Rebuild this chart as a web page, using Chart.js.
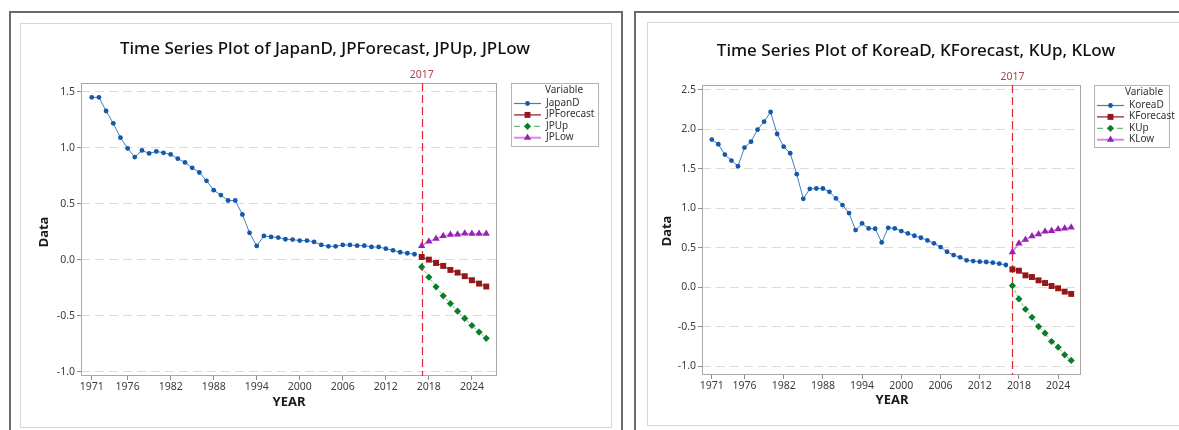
<!DOCTYPE html>
<html><head><meta charset="utf-8">
<script src="https://cdn.jsdelivr.net/npm/chart.js@4"></script>
<style>
html,body{margin:0;padding:0;background:#fff;width:1179px;height:430px;overflow:hidden;position:relative;}
.outer{position:absolute;border:2px solid #6b6b6b;}
.inner{position:absolute;border:1px solid #d6d6d6;}
canvas{position:absolute;top:0;}
</style></head><body>
<div class="outer" style="left:9px;top:11px;width:610px;height:440px;"></div>
<div class="inner" style="left:20px;top:23px;width:590px;height:403px;"></div>
<div class="outer" style="left:634px;top:11px;width:560px;height:440px;"></div>
<div class="inner" style="left:647px;top:22px;width:560px;height:402px;"></div>
<canvas id="c1" width="625" height="430" style="left:0px;width:625px;height:430px;"></canvas>
<canvas id="c2" width="549" height="430" style="left:630px;width:549px;height:430px;"></canvas>
<script>
// ---------- DATA ----------
const histYears = [1971,1972,1973,1974,1975,1976,1977,1978,1979,1980,
  1981,1982,1983,1984,1985,1986,1987,1988,1989,1990,
  1991,1992,1993,1994,1995,1996,1997,1998,1999,2000,
  2001,2002,2003,2004,2005,2006,2007,2008,2009,2010,
  2011,2012,2013,2014,2015,2016];
const forecastYears = [2017,2018,2019,2020,2021,2022,2023,2024,2025,2026];
const xTickLabels = [1971,1976,1982,1988,1994,2000,2006,2012,2018,2024];
const refYear = 2017;

const japanD = [1.452,1.452,1.330,1.220,1.092,0.996,0.919,0.978,0.951,0.969,
  0.957,0.942,0.904,0.871,0.823,0.781,0.707,0.623,0.579,0.531,
  0.531,0.406,0.242,0.125,0.215,0.206,0.200,0.185,0.182,0.173,
  0.173,0.161,0.134,0.122,0.122,0.134,0.134,0.128,0.128,0.116,
  0.116,0.101,0.086,0.069,0.060,0.051];
const jpForecast = [0.027,0.003,-0.027,-0.053,-0.089,-0.113,-0.145,-0.181,-0.211,-0.237];
const jpUp = [-0.062,-0.154,-0.240,-0.320,-0.389,-0.457,-0.522,-0.585,-0.644,-0.700];
const jpLow = [0.125,0.166,0.190,0.214,0.226,0.228,0.237,0.234,0.234,0.234];
const jpYTicks = [-1.0,-0.5,0.0,0.5,1.0,1.5];

const koreaD = [1.869,1.810,1.679,1.604,1.532,1.768,1.843,1.995,2.096,2.218,
  1.940,1.780,1.696,1.431,1.120,1.246,1.250,1.250,1.208,1.124,
  1.040,0.939,0.724,0.808,0.745,0.741,0.568,0.753,0.745,0.711,
  0.682,0.652,0.627,0.593,0.556,0.509,0.450,0.408,0.379,0.341,
  0.332,0.324,0.320,0.311,0.299,0.282];
const kForecast = [0.227,0.210,0.151,0.130,0.088,0.054,0.016,-0.013,-0.055,-0.084];
const kUp = [0.021,-0.147,-0.278,-0.379,-0.497,-0.581,-0.686,-0.758,-0.855,-0.926];
const kLow = [0.446,0.555,0.602,0.648,0.673,0.707,0.715,0.736,0.745,0.757];
const krYTicks = [-1.0,-0.5,0.0,0.5,1.0,1.5,2.0,2.5];

// ---------- STYLES ----------
const FONT = '"Noto Sans", "Open Sans", sans-serif';
const styles = [
  {color:'#1459a9', line:'#3f7fc4', style:'circle', r:2.4, dash:[], lw:1},
  {color:'#961717', line:'#8a1a1a', style:'rect', r:4.2, dash:[], lw:1},
  {color:'#0b7d27', line:'#6cbc78', style:'rectRot', r:3.6, dash:[3,2], lw:1},
  {color:'#9a1fb4', line:'#c992da', style:'triangle', r:4.2, dash:[], lw:1.5}
];
const pts = (xs, ys) => xs.map((x,i)=>({x:x, y:ys[i]}));

function makeDatasets(names, series){
  return names.map((n,i)=>{
    const s = styles[i];
    const xs = i===0 ? histYears : forecastYears;
    return {label:n, data:pts(xs, series[i]), borderColor:s.line, backgroundColor:s.color,
      pointBackgroundColor:s.color, pointBorderColor:s.color, pointBorderWidth:0,
      pointStyle:s.style, pointRadius:s.r, pointHoverRadius:s.r, borderWidth:s.lw,
      borderDash:s.dash, tension:0, fill:false, _st:s};
  });
}

const deco = {
  id:'deco',
  beforeDatasetsDraw(chart, args, o){
    const {ctx, chartArea:a, scales:{x}} = chart;
    ctx.save();
    ctx.strokeStyle='#a8a8a8'; ctx.lineWidth=1; ctx.setLineDash([]);
    ctx.strokeRect(a.left+0.5, a.top+0.5, a.right-a.left-1, a.bottom-a.top-1);
    const xp = Math.round(x.getPixelForValue(refYear))+0.5;
    ctx.strokeStyle='#e2262b'; ctx.lineWidth=1.2; ctx.setLineDash([8,4]);
    ctx.beginPath(); ctx.moveTo(xp,a.top); ctx.lineTo(xp,a.bottom); ctx.stroke();
    ctx.restore();
  },
  afterDraw(chart, args, o){
    const {ctx, chartArea:a, scales:{x}} = chart;
    ctx.save();
    ctx.textBaseline='middle'; ctx.textAlign='center';
    // title
    ctx.fillStyle='#111'; ctx.font='500 17px '+FONT;
    ctx.fillText(o.title, o.titleX, o.titleY);
    // ref label
    ctx.fillStyle='#b0404a'; ctx.font='10.5px '+FONT;
    ctx.fillText(String(refYear), x.getPixelForValue(refYear), o.refLabelY);
    // axis titles
    ctx.fillStyle='#1a1a1a'; ctx.font='bold 13px '+FONT;
    ctx.fillText('YEAR', o.xTitleX, o.xTitleY);
    ctx.save(); ctx.translate(o.yTitleX, o.yTitleY); ctx.rotate(-Math.PI/2);
    ctx.fillText('Data', 0, 0); ctx.restore();
    // legend
    const L = o.legend;
    ctx.fillStyle='#fff'; ctx.fillRect(L.x, L.y, L.w, L.h);
    ctx.strokeStyle='#b4b4b4'; ctx.lineWidth=1; ctx.setLineDash([]);
    ctx.strokeRect(L.x+0.5, L.y+0.5, L.w, L.h);
    ctx.fillStyle='#333'; ctx.font='10px '+FONT; ctx.textAlign='center';
    ctx.fillText('Variable', L.x + L.titleDx, L.y + 7);
    chart.data.datasets.forEach((d,i)=>{
      const s = d._st;
      const cy = L.y + 20 + i*11.4;
      const x0 = L.x + 3, x1 = L.x + 30;
      ctx.strokeStyle = s.line; ctx.lineWidth = (i===3?2:1.2);
      ctx.setLineDash(s.dash.length? [6,4]:[]);
      ctx.beginPath(); ctx.moveTo(x0, cy+0.5); ctx.lineTo(x1, cy+0.5); ctx.stroke();
      ctx.setLineDash([]);
      ctx.fillStyle = s.color; ctx.strokeStyle = s.color;
      Chart.helpers.drawPoint(ctx, {pointStyle:s.style, radius:s.r, rotation:0, borderWidth:0}, (x0+x1)/2, cy+0.5);
      ctx.fillStyle='#333'; ctx.textAlign='left'; ctx.font='10px '+FONT;
      ctx.fillText(d.label, L.x + 35, cy);
    });
    ctx.restore();
  }
};

function buildChart(id, names, series, yTicks, cfg){
  return new Chart(document.getElementById(id), {
    type:'line',
    data:{datasets: makeDatasets(names, series)},
    plugins:[deco],
    options:{
      responsive:false, animation:false, devicePixelRatio:1,
      layout:{padding:{left:0, top:cfg.padTop, right:cfg.padRight, bottom:0}},
      plugins:{legend:{display:false}, title:{display:false}, tooltip:{enabled:false}, deco:cfg.deco},
      scales:{
        x:{type:'linear', min:1969.5, max:2027.5,
          afterBuildTicks(s){ s.ticks = xTickLabels.map(v=>({value:v})); },
          afterFit(s){ s.height = cfg.xHeight; },
          grid:{drawOnChartArea:false, drawTicks:true, tickLength:4, tickColor:'#8c8c8c'},
          border:{display:false},
          ticks:{color:'#3c3c3c', font:{family:FONT, size:10.5}, padding:1, maxRotation:0, autoSkip:false,
            callback:v=>String(v)}
        },
        y:{type:'linear', min:cfg.yMin, max:cfg.yMax,
          afterBuildTicks(s){ s.ticks = yTicks.map(v=>({value:v})); },
          afterFit(s){ s.width = cfg.yWidth; },
          grid:{color:'#dcdcdc', lineWidth:1, drawTicks:true, tickLength:4, tickColor:'#8c8c8c', tickBorderDash:[]},
          border:{display:false, dash:[9,5]},
          ticks:{color:'#3c3c3c', font:{family:FONT, size:10.5}, padding:2, autoSkip:false,
            callback:v=>Number(v).toFixed(1)}
        }
      }
    }
  });
}

buildChart('c1', ['JapanD','JPForecast','JPUp','JPLow'], [japanD, jpForecast, jpUp, jpLow], jpYTicks, {
  padTop:83, padRight:128, xHeight:54, yWidth:81, yMin:-1.036, yMax:1.58,
  deco:{title:'Time Series Plot of JapanD, JPForecast, JPUp, JPLow', titleX:325, titleY:49,
    refLabelY:75, xTitleX:289, xTitleY:402, yTitleX:44, yTitleY:232,
    legend:{x:511, y:83, w:87, h:63, titleDx:53}}
});
buildChart('c2', ['KoreaD','KForecast','KUp','KLow'], [koreaD, kForecast, kUp, kLow], krYTicks, {
  padTop:85, padRight:98, xHeight:55, yWidth:72, yMin:-1.11, yMax:2.56,
  deco:{title:'Time Series Plot of KoreaD, KForecast, KUp, KLow', titleX:286, titleY:51,
    refLabelY:77, xTitleX:262, xTitleY:400, yTitleX:37, yTitleY:231,
    legend:{x:464, y:85, w:75, h:62, titleDx:50}}
});
</script>
</body></html>
